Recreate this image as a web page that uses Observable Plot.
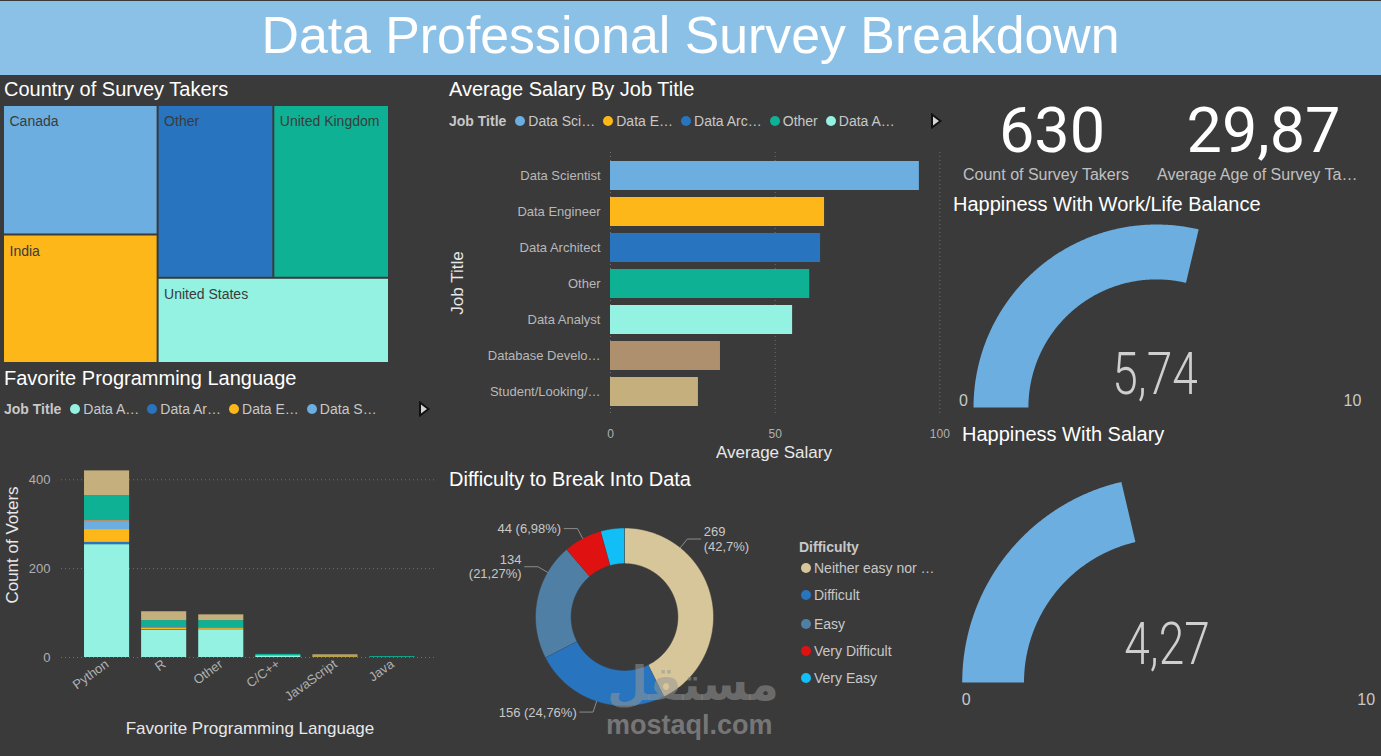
<!DOCTYPE html>
<html>
<head>
<meta charset="utf-8">
<title>Data Professional Survey Breakdown</title>
<script src="https://cdn.jsdelivr.net/npm/d3@7"></script>
<script src="https://cdn.jsdelivr.net/npm/@observablehq/plot@0.6"></script>
<style>
  html, body { margin: 0; padding: 0; }
  body { width: 1381px; height: 756px; overflow: hidden; position: relative; background: #3a3a3a;
         font-family: "Liberation Sans", Arial, sans-serif; }
  .abs { position: absolute; white-space: nowrap; line-height: 1; }
  .banner { left: 0; top: 1px; width: 1381px; height: 74px; background: #8cc1e7; }
  .main-title { left: 0; width: 1381px; top: 9.5px; text-align: center; font-size: 51.8px; color: #fff; }
  .vtitle { font-size: 20px; color: #fff; }
  .legend { display: flex; align-items: center; font-size: 14px; color: #c8c8c8; height: 16px; }
  .legend .key { font-weight: bold; margin-right: 9px; }
  .legend .item { display: flex; align-items: center; margin-right: 8px; }
  .dot { width: 10px; height: 10px; border-radius: 50%; margin-right: 3px; flex: none; }
  .axis-title { font-size: 17px; color: #e8e8e8; transform: translate(-50%, -50%); }
  .axis-title.rot { transform: translate(-50%, -50%) rotate(-90deg); }
  .kpi-value { font-family: Roboto, "Liberation Sans", sans-serif; font-size: 63px; color: #fff;
               text-align: center; width: 300px; }
  .kpi-label { font-size: 16px; color: #c0c0c0; }
  .gauge-value { font-family: Roboto, "Liberation Sans", sans-serif; font-weight: 300; font-size: 59px;
                 color: #cfcfcf; transform: translateX(-50%) scaleX(0.78); }
  .dlegend { font-size: 14px; color: #c8c8c8; display: flex; align-items: center; }
  .watermark-ar { font-family: "DejaVu Sans", sans-serif; font-weight: bold; font-size: 47px;
                  color: rgba(150, 150, 150, 0.55); direction: rtl; }
  .watermark { font-weight: bold; font-size: 27px; color: rgba(135, 135, 135, 0.8); }
</style>
</head>
<body>
<div class="abs banner"></div>
<div class="abs main-title">Data Professional Survey Breakdown</div>
<script>
// ---------------- data ----------------
const countries = ["Canada", "India", "Other", "United Kingdom", "United States"];
const countryShare = [20.1, 19.95, 20.07, 20.07, 19.8];
const countryColors = ["#6caedf", "#fdb718", "#2874be", "#0eb194", "#93f2e2"];

// Average salary by job title (thousands)
const jobTitles = ["Data Scientist", "Data Engineer", "Data Architect", "Other", "Data Analyst",
                   "Database Developer", "Student/Looking/None"];
const jobTitleTickLabels = ["Data Scientist", "Data Engineer", "Data Architect", "Other", "Data Analyst",
                            "Database Develo…", "Student/Looking/…"];
const avgSalary = [93.8, 65.0, 63.8, 60.5, 55.3, 33.4, 26.7];
const salaryLegendLabels = ["Data Sci…", "Data E…", "Data Arc…", "Other", "Data A…"];

// Job title palette (alphabetical order used for stacking)
const stackTitles = ["Data Analyst", "Data Architect", "Data Engineer", "Data Scientist",
                     "Database Developer", "Other", "Student/Looking/None"];
const stackColors = ["#93f2e2", "#2874be", "#fdb718", "#6caedf", "#ae8f6e", "#0eb194", "#c5af7c"];
const languageLegendLabels = ["Data A…", "Data Ar…", "Data E…", "Data S…"];

// Favorite programming language votes, one list per language, in stackTitles order
const languages = ["Python", "R", "Other", "C/C++", "JavaScript", "Java"];
const votesPython = [254, 5, 29, 18, 4, 54, 56];
const votesR = [62, 1, 3, 3, 0, 14, 20];
const votesOther = [61, 0, 4, 2, 0, 16, 13];
const votesCpp = [4, 0, 0, 0, 0, 3, 0];
const votesJavaScript = [1, 0, 3, 0, 0, 0, 2];
const votesJava = [0, 0, 0, 0, 0, 2, 0];

// Difficulty to break into data
const difficulties = ["Neither easy nor difficult", "Difficult", "Easy", "Very Difficult", "Very Easy"];
const difficultyCounts = [269, 156, 134, 44, 27];
const difficultyColors = ["#d7c69a", "#2874be", "#507fa5", "#df1111", "#11bff6"];

// KPIs and gauges
const surveyTakers = 630;
const averageAge = 29.87;
const workLifeHappiness = 5.74;
const salaryHappiness = 4.27;
const gaugeMin = 0;
const gaugeMax = 10;

// ---------------- helpers ----------------
const FONT = '"Liberation Sans", Arial, sans-serif';
const baseStyle = {background: "transparent", overflow: "visible", fontFamily: FONT, color: "#b4b4b4"};
const commaNum = v => v.toFixed(2).replace(".", ",");
const pctText = v => String(parseFloat(v.toFixed(2))).replace(".", ",");

function mount(node, left, top) {
  const d = document.createElement("div");
  d.className = "abs";
  d.style.left = left + "px";
  d.style.top = top + "px";
  d.appendChild(node);
  document.body.appendChild(d);
  return d;
}
function textBox(text, cls, left, top, extra = "") {
  const d = document.createElement("div");
  d.className = "abs " + cls;
  d.style.cssText += `left:${left}px;top:${top}px;${extra}`;
  d.textContent = text;
  document.body.appendChild(d);
  return d;
}
function arrowIcon() {
  const ns = "http://www.w3.org/2000/svg";
  const s = document.createElementNS(ns, "svg");
  s.setAttribute("width", 12); s.setAttribute("height", 16);
  const p = document.createElementNS(ns, "polygon");
  p.setAttribute("points", "2,1.5 10.5,8 2,14.5");
  p.setAttribute("fill", "#d4d4d4"); p.setAttribute("stroke", "#111"); p.setAttribute("stroke-width", "2");
  s.appendChild(p);
  return s;
}
function legendRow(left, centerY, key, labels, colors, arrowLeft) {
  const row = document.createElement("div");
  row.className = "abs legend";
  row.style.left = left + "px";
  row.style.top = (centerY - 8) + "px";
  const k = document.createElement("span");
  k.className = "key"; k.textContent = key;
  row.appendChild(k);
  labels.forEach((lab, i) => {
    const it = document.createElement("span");
    it.className = "item";
    const dot = document.createElement("span");
    dot.className = "dot"; dot.style.background = colors[i];
    const t = document.createElement("span");
    t.textContent = lab;
    it.appendChild(dot); it.appendChild(t);
    row.appendChild(it);
  });
  document.body.appendChild(row);
  mount(arrowIcon(), arrowLeft, centerY - 8);
}

// ---------------- visual titles ----------------
textBox("Country of Survey Takers", "vtitle", 4, 79);
textBox("Favorite Programming Language", "vtitle", 4, 367.7);
textBox("Average Salary By Job Title", "vtitle", 449, 79.3);
textBox("Difficulty to Break Into Data", "vtitle", 449, 469.2);
textBox("Happiness With Work/Life Balance", "vtitle", 953, 193.5);
textBox("Happiness With Salary", "vtitle", 962, 423.5);

// ---------------- treemap: country of survey takers ----------------
{
  const W = 384, H = 256;
  const root = d3.hierarchy({children: countries.map((c, i) => ({name: c, value: countryShare[i]}))})
    .sum(d => d.value || 0);
  d3.treemap().size([W, H]).tile(d3.treemapSquarify.ratio(1)).paddingInner(2)(root);
  const tiles = root.leaves().map(l => ({country: l.data.name, x0: l.x0, x1: l.x1, y0: l.y0, y1: l.y1}));
  const chart = Plot.plot({
    width: W, height: H, margin: 0, style: baseStyle,
    x: {domain: [0, W], range: [0, W], axis: null},
    y: {domain: [0, H], range: [0, H], axis: null},
    color: {domain: countries, range: countryColors},
    marks: [
      Plot.rect(tiles, {x1: "x0", x2: "x1", y1: "y0", y2: "y1", fill: "country"}),
      Plot.text(tiles, {x: "x0", y: "y0", text: "country", textAnchor: "start", lineAnchor: "top",
                        dx: 5, dy: 10, fill: "#3b3b3b", fontSize: 14})
    ]
  });
  mount(chart, 4, 106);
}

// ---------------- bar chart: average salary by job title ----------------
{
  legendRow(449, 121, "Job Title", salaryLegendLabels,
            jobTitles.slice(0, 5).map(t => stackColors[stackTitles.indexOf(t)]), 930);
  const rows = jobTitles.map((t, i) => ({title: t, salary: avgSalary[i]}));
  const tickLabel = new Map(jobTitles.map((t, i) => [t, jobTitleTickLabels[i]]));
  const chart = Plot.plot({
    width: 520, height: 330, marginLeft: 170, marginRight: 20.7, marginTop: 12, marginBottom: 55,
    style: baseStyle,
    x: {domain: [0, 100]},
    y: {domain: jobTitles, padding: 0.2},
    color: {domain: stackTitles, range: stackColors},
    marks: [
      Plot.ruleX([0, 50, 100], {stroke: "#707070", strokeDasharray: "1,3"}),
      Plot.barX(rows, {x: "salary", y: "title", fill: "title"}),
      Plot.axisX({ticks: [0, 50, 100], tickSize: 0, tickPadding: 14, label: null, fontSize: 12, fill: "#b0b0b0"}),
      Plot.axisY({tickSize: 0, tickPadding: 10, label: null, fontSize: 13, fill: "#b8b8b8",
                  tickFormat: t => tickLabel.get(t)})
    ]
  });
  mount(chart, 440, 140);
  textBox("Average Salary", "axis-title", 774, 452);
  textBox("Job Title", "axis-title rot", 457, 283);
}

// ---------------- stacked columns: favorite programming language ----------------
{
  legendRow(4, 409, "Job Title", languageLegendLabels, stackColors.slice(0, 4), 418);
  const votesByLanguage = [votesPython, votesR, votesOther, votesCpp, votesJavaScript, votesJava];
  const rows = languages.flatMap((lang, i) =>
    stackTitles.map((t, j) => ({language: lang, title: t, votes: votesByLanguage[i][j]})));
  const chart = Plot.plot({
    width: 440, height: 306, marginLeft: 61, marginRight: 3, marginTop: 11, marginBottom: 99,
    style: baseStyle,
    x: {domain: languages, range: [72.6, 426], paddingInner: 0.21, paddingOuter: 0.2, round: false},
    y: {domain: [0, 440], range: [207, 11.5]},
    color: {domain: stackTitles, range: stackColors},
    marks: [
      Plot.ruleY([0, 200, 400], {stroke: "#707070", strokeDasharray: "1,3"}),
      Plot.barY(rows, {x: "language", y: "votes", fill: "title"}),
      Plot.axisY({ticks: [0, 200, 400], tickSize: 0, tickPadding: 11, label: null, fontSize: 13, fill: "#b0b0b0"}),
      Plot.axisX({tickSize: 0, tickPadding: 5, tickRotate: -36, label: null, fontSize: 13, fill: "#b0b0b0"})
    ]
  });
  mount(chart, 0, 450);
  textBox("Favorite Programming Language", "axis-title", 250, 728);
  textBox("Count of Voters", "axis-title rot", 12, 545);
}

// ---------------- donut: difficulty to break into data ----------------
{
  const W = 340, H = 235, cx = 179, cy = 111.5, R = 89, inner = 0.6;
  const total = d3.sum(difficultyCounts);
  let acc = 0;
  const slices = difficulties.map((d, i) => {
    const a0 = acc / total * 2 * Math.PI;
    acc += difficultyCounts[i];
    const a1 = acc / total * 2 * Math.PI;
    return {difficulty: d, count: difficultyCounts[i], a0, a1};
  });
  // ring outline for each slice: outer arc clockwise from the top, inner arc back
  const ring = slices.flatMap(s => {
    const n = Math.max(2, Math.ceil((s.a1 - s.a0) / (Math.PI / 360)));
    const pts = [];
    for (let k = 0; k <= n; k++) {
      const a = s.a0 + (s.a1 - s.a0) * k / n;
      pts.push({difficulty: s.difficulty, x: Math.sin(a), y: Math.cos(a)});
    }
    for (let k = n; k >= 0; k--) {
      const a = s.a0 + (s.a1 - s.a0) * k / n;
      pts.push({difficulty: s.difficulty, x: inner * Math.sin(a), y: inner * Math.cos(a)});
    }
    return pts;
  });
  // outside labels with leader lines; slices under 5% get no label (no room next to the 44 label),
  // and a couple are shifted and wrapped to stay clear of the legend
  const labelTweaks = {"Neither easy nor difficult": {shift: -38, wrap: true}, "Easy": {shift: 19, wrap: true}};
  const leaders = [], labels = [];
  slices.filter(s => s.count / total >= 0.05).forEach(s => {
    const tw = labelTweaks[s.difficulty] || {shift: 0, wrap: false};
    const th = (s.a0 + s.a1) / 2 + tw.shift * Math.PI / 180;
    const side = Math.sin(th) >= 0 ? 1 : -1;
    const ex = 1.125 * Math.sin(th), ey = 1.125 * Math.cos(th);
    leaders.push({difficulty: s.difficulty, x: Math.sin(th), y: Math.cos(th)});
    leaders.push({difficulty: s.difficulty, x: ex, y: ey});
    leaders.push({difficulty: s.difficulty, x: ex + side * 0.15, y: ey});
    const pct = pctText(s.count / total * 100);
    labels.push({side, x: ex + side * 0.15, y: ey,
                 text: `${s.count}${tw.wrap ? "\n" : " "}(${pct}%)`});
  });
  const chart = Plot.plot({
    width: W, height: H, margin: 0, style: baseStyle,
    x: {domain: [-cx / R, (W - cx) / R], range: [0, W], axis: null},
    y: {domain: [(cy - H) / R, cy / R], range: [H, 0], axis: null},
    color: {domain: difficulties, range: difficultyColors},
    marks: [
      Plot.line(ring, {x: "x", y: "y", z: "difficulty", fill: "difficulty", stroke: "#3a3a3a",
                       strokeWidth: 0.5, curve: "linear"}),
      Plot.line(leaders, {x: "x", y: "y", z: "difficulty", stroke: "#8c8c8c", strokeWidth: 1, curve: "linear"}),
      Plot.text(labels.filter(d => d.side > 0), {x: "x", y: "y", text: "text", textAnchor: "start", dx: 3,
                fill: "#c8c8c8", fontSize: 13, lineHeight: 1.1}),
      Plot.text(labels.filter(d => d.side < 0), {x: "x", y: "y", text: "text", textAnchor: "end", dx: -3,
                fill: "#c8c8c8", fontSize: 13, lineHeight: 1.1})
    ]
  });
  mount(chart, 445, 505);

  // legend
  textBox("Difficulty", "dlegend", 799, 540, "font-weight:bold;");
  const rowsY = [569, 596, 625, 652, 679];
  difficulties.forEach((d, i) => {
    const lab = d.length > 17 ? d.slice(0, 17) + "…" : d;
    const row = textBox("", "dlegend", 801, rowsY[i] - 8);
    const dot = document.createElement("span");
    dot.className = "dot"; dot.style.background = difficultyColors[i];
    const t = document.createElement("span");
    t.textContent = lab;
    row.appendChild(dot); row.appendChild(t);
  });
}

// ---------------- KPI cards ----------------
textBox(String(surveyTakers), "kpi-value", 1052 - 150, 98.7);
textBox(commaNum(averageAge), "kpi-value", 1263.5 - 150, 98.7);
textBox("Count of Survey Takers", "kpi-label", 963, 167.2);
textBox("Average Age of Survey Ta…", "kpi-label", 1157, 167.2);

// ---------------- gauges ----------------
function gauge(value, layout) {
  const {cx, cy, R, inner, minOffset, maxOffset} = layout;
  const left = 940, W = 441, padTop = 4, padBottom = 30;
  const top = cy - R - padTop, H = R + padTop + padBottom;
  const a1 = Math.PI * (1 - (value - gaugeMin) / (gaugeMax - gaugeMin));
  const n = 240, pts = [];
  for (let k = 0; k <= n; k++) {
    const a = Math.PI + (a1 - Math.PI) * k / n;
    pts.push({x: Math.cos(a), y: Math.sin(a)});
  }
  for (let k = n; k >= 0; k--) {
    const a = Math.PI + (a1 - Math.PI) * k / n;
    pts.push({x: inner * Math.cos(a), y: inner * Math.sin(a)});
  }
  const chart = Plot.plot({
    width: W, height: H, marginLeft: cx - R - left, marginRight: left + W - (cx + R),
    marginTop: padTop, marginBottom: padBottom, style: baseStyle,
    x: {domain: [-1, 1], axis: null},
    y: {domain: [0, 1], axis: null},
    marks: [
      Plot.line(pts, {x: "x", y: "y", fill: "#6caedf", stroke: "none", curve: "linear"}),
      Plot.text([gaugeMin], {x: -1, y: 0, text: d => String(d), dx: minOffset[0], dy: minOffset[1],
                             fill: "#c8c8c8", fontSize: 16}),
      Plot.text([gaugeMax], {x: 1, y: 0, text: d => String(d), dx: maxOffset[0], dy: maxOffset[1],
                             fill: "#c8c8c8", fontSize: 16})
    ]
  });
  mount(chart, left, top);
  textBox(commaNum(value), "gauge-value", cx - 1, layout.valueTop);
}
gauge(workLifeHappiness, {cx: 1156, cy: 406.7, R: 183, inner: 0.7, minOffset: [-10, -6.7], maxOffset: [13, -6.7], valueTop: 343.6});
gauge(salaryHappiness, {cx: 1167.7, cy: 682.3, R: 206, inner: 0.7, minOffset: [4, 17], maxOffset: [-8, 17], valueTop: 613.6});

// ---------------- watermark ----------------
textBox("مستقل", "watermark-ar", 607, 660);
textBox("mostaql.com", "watermark", 606, 712);
</script>
</body>
</html>
